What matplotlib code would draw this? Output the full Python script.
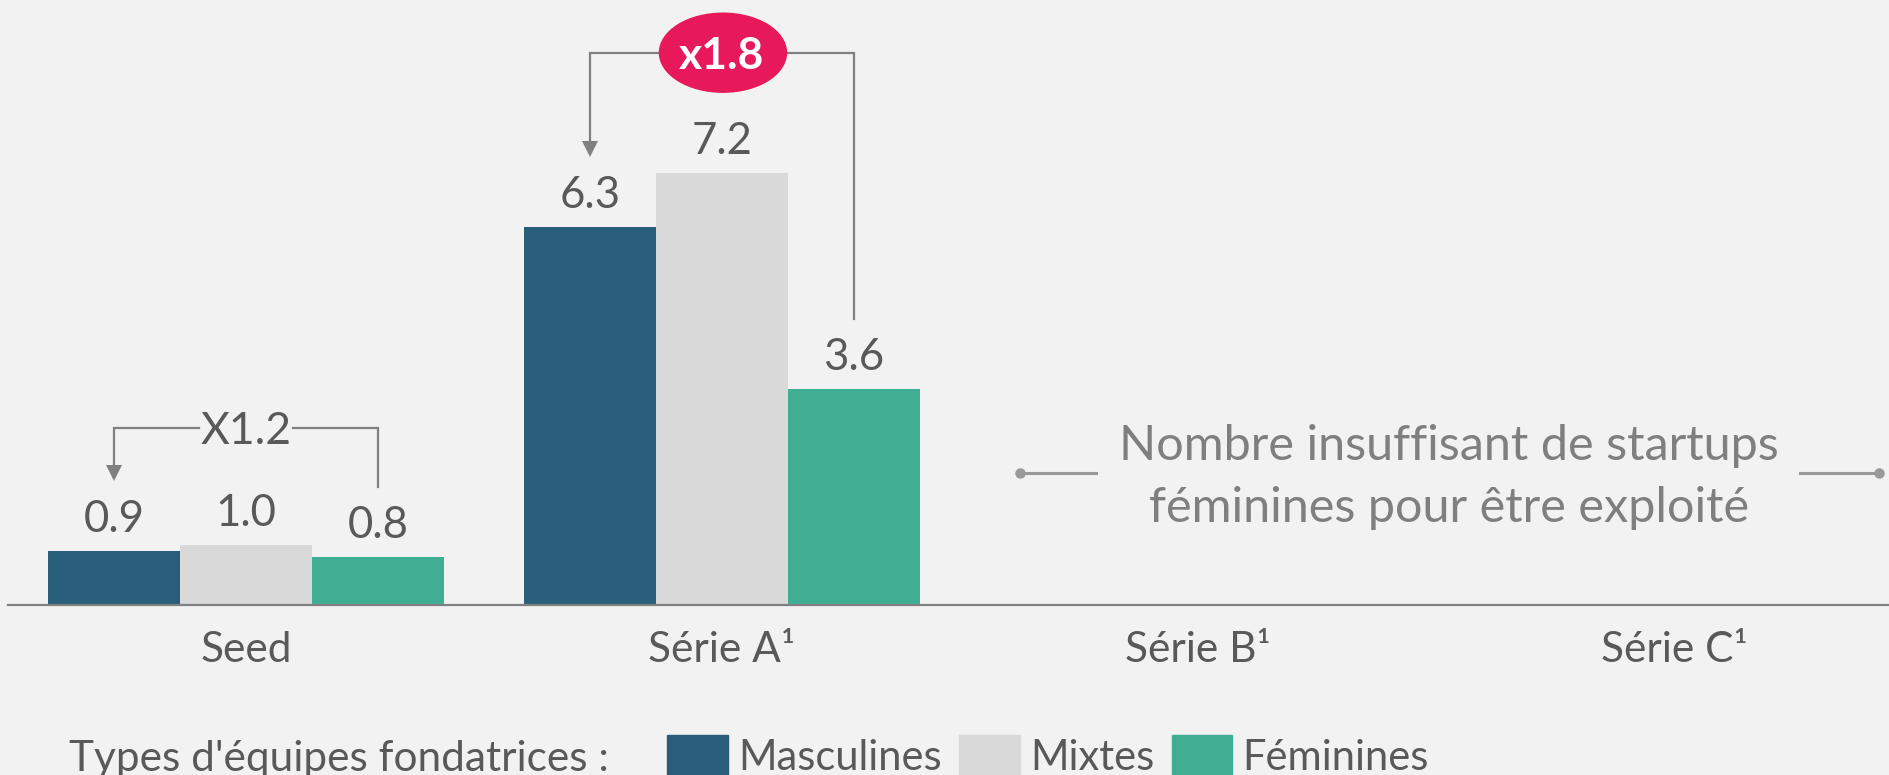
import matplotlib
matplotlib.use("Agg")
import matplotlib.pyplot as plt
import numpy as np
from matplotlib.patches import Ellipse, Patch

categories = ["Seed", "Série A¹", "Série B¹", "Série C¹"]
series_names = ["Masculines", "Mixtes", "Féminines"]
masculines = [0.9, 6.3]
mixtes = [1.0, 7.2]
feminines = [0.8, 3.6]
ratios = ["X1.2", "x1.8"]
note = "Nombre insuffisant de startups\nféminines pour être exploité"
legend_title = "Types d'équipes fondatrices :"

colors = ["#285E7C", "#D9D9D9", "#3FAE92"]
bg = "#F2F2F2"
txt = "#595959"
line_c = "#808080"

plt.rcParams["font.family"] = ["Lato", "DejaVu Sans"]

W, H = 1890, 775
fig = plt.figure(figsize=(W / 100, H / 100), dpi=100, facecolor=bg)
ax = fig.add_axes([8 / W, 170 / H, 1 - 8 / W, 605 / H])
ax.set_facecolor(bg)
ax.set_xlim(-0.5, 3.4538)
ax.set_ylim(0, 605 / 60)

x = np.arange(len(categories))
width = 0.277
offsets = [-width, 0, width]
all_vals = [masculines, mixtes, feminines]

for vals, off, col, name in zip(all_vals, offsets, colors, series_names):
    xs = x[: len(vals)] + off
    ax.bar(xs, vals, width=width, color=col, label=name, linewidth=0)
    for xi, v in zip(xs, vals):
        ax.annotate(f"{v:.1f}", (xi, v), xytext=(0, 13.5), textcoords="offset points",
                    ha="center", va="baseline", fontsize=31.5, color=txt)

# brackets comparing masculine vs feminine
tops = [2.95, 9.205]
for i, r in enumerate(ratios):
    xl = x[i] - width
    xr = x[i] + width
    top = tops[i]
    tip = masculines[i] + 1.17
    bot = feminines[i] + 1.16
    head = 15 / 60
    if i == 0:
        gap = 47 / 476
        ax.plot([xr, xr, x[i] + gap], [bot, top, top], color=line_c, lw=1.6, solid_joinstyle="miter")
        ax.plot([x[i] - gap, xl, xl], [top, top, tip + head], color=line_c, lw=1.6, solid_joinstyle="miter")
        ax.text(x[i], top, r, ha="center", va="center_baseline", fontsize=32, color=txt)
    else:
        ax.plot([xr, xr, xl, xl], [bot, top, top, tip + head], color=line_c, lw=1.6, solid_joinstyle="miter")
        ax.add_patch(Ellipse((x[i] + 0.002, top), 127 / 476, 79 / 60, color="#E8195A", zorder=3))
        ax.text(x[i], top, r, ha="center", va="center_baseline", fontsize=32, color="white",
                fontweight="bold", zorder=4)
    ax.plot([xl], [tip + head / 2], marker="v", markersize=11.3, color=line_c, markeredgewidth=0)

# note for the empty categories
note_y = 132 / 60
ax.text(2.527, note_y - 4 / 60, note, ha="center", va="center", fontsize=35, color="#7F7F7F",
        linespacing=1.52)
ax.plot([1.626, 1.786], [note_y, note_y], color="#999999", lw=2.2)
ax.plot([3.265, 3.43], [note_y, note_y], color="#999999", lw=2.2)
ax.plot([1.626, 3.43], [note_y, note_y], ls="none", marker="o", markersize=6.5, color="#999999")

for s in ["top", "left", "right"]:
    ax.spines[s].set_visible(False)
ax.spines["bottom"].set_color(line_c)
ax.spines["bottom"].set_linewidth(1.6)
ax.set_yticks([])
ax.set_xticks(x, categories)
ax.tick_params(axis="x", length=0, pad=19, labelsize=30.5, labelcolor=txt)

fig.text(69 / W, (H - 756) / H, legend_title, ha="left", va="center_baseline", fontsize=30.5, color=txt)
handles = [Patch(color=c, label=n) for c, n in zip(colors, series_names)]
fig.legend(handles=handles, loc="center left", bbox_to_anchor=(667 / W, (H - 756) / H), ncol=3,
           frameon=False, fontsize=30, labelcolor=txt, handlelength=1.46, handleheight=1.2,
           handletextpad=0.24, columnspacing=0.42, borderpad=0, borderaxespad=0)

fig.savefig("out.png", dpi=100, facecolor=bg)
